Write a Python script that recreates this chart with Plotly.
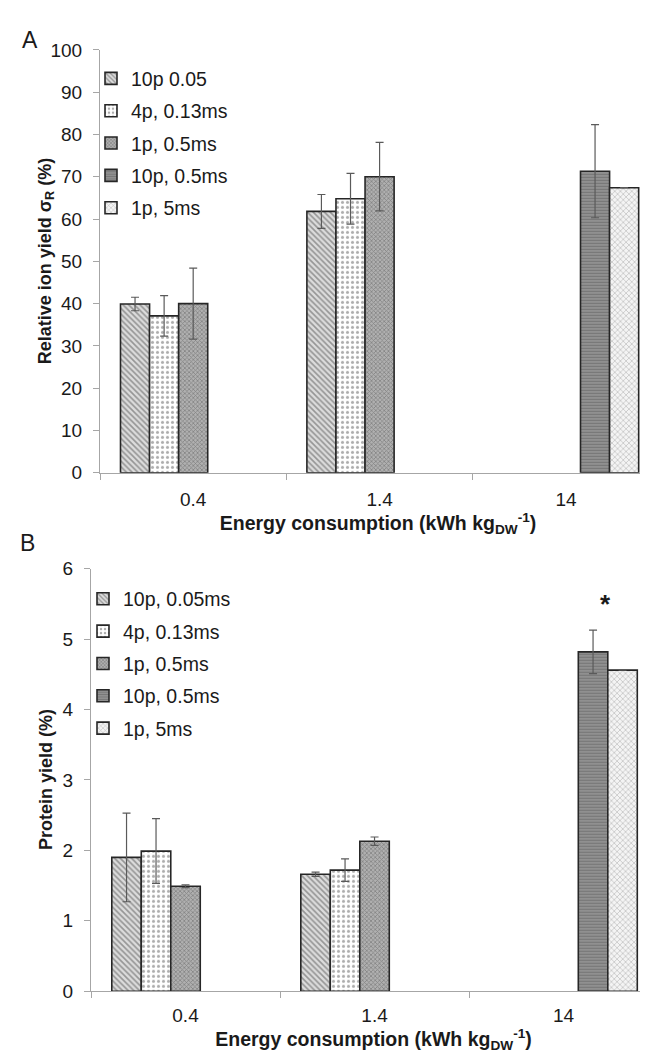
import plotly.graph_objects as go

categories = ["0.4", "1.4", "14"]

names_a = ["10p 0.05", "4p, 0.13ms", "1p, 0.5ms", "10p, 0.5ms", "1p, 5ms"]
names_b = ["10p, 0.05ms", "4p, 0.13ms", "1p, 0.5ms", "10p, 0.5ms", "1p, 5ms"]

# Panel A: relative ion yield (%)
ion_10p_005 = [39.9, 61.8, None]
ion_4p_013 = [37.1, 64.8, None]
ion_1p_05 = [40.0, 70.0, None]
ion_10p_05 = [None, None, 71.3]
ion_1p_5 = [None, None, 67.4]
ion_err_10p_005 = [1.6, 4.0, 0]
ion_err_4p_013 = [4.8, 6.0, 0]
ion_err_1p_05 = [8.4, 8.1, 0]
ion_err_10p_05 = [0, 0, 11.0]
ion_err_1p_5 = [0, 0, 0]

# Panel B: protein yield (%)
prot_10p_005 = [1.90, 1.66, None]
prot_4p_013 = [1.99, 1.72, None]
prot_1p_05 = [1.49, 2.13, None]
prot_10p_05 = [None, None, 4.82]
prot_1p_5 = [None, None, 4.56]
prot_err_10p_005 = [0.63, 0.03, 0]
prot_err_4p_013 = [0.46, 0.16, 0]
prot_err_1p_05 = [0.02, 0.06, 0]
prot_err_10p_05 = [0, 0, 0.31]
prot_err_1p_5 = [0, 0, 0]

patterns = [
    dict(shape="\\", fgcolor="#4d4d4d", bgcolor="#dcdcdc", size=4, solidity=0.4),
    dict(shape=".", fgcolor="#5a5a5a", bgcolor="white", size=5, solidity=0.3),
    dict(shape="x", fgcolor="#555555", bgcolor="#b0b0b0", size=3, solidity=0.45),
    dict(shape="-", fgcolor="#555555", bgcolor="#959595", size=3, solidity=0.45),
    dict(shape="x", fgcolor="#808080", bgcolor="#f4f4f4", size=4, solidity=0.3),
]

FONT = "Liberation Sans, Arial, sans-serif"
TXT = "#1a1a1a"

fig = go.Figure()

vals_a = [ion_10p_005, ion_4p_013, ion_1p_05, ion_10p_05, ion_1p_5]
errs_a = [ion_err_10p_005, ion_err_4p_013, ion_err_1p_05, ion_err_10p_05, ion_err_1p_5]
vals_b = [prot_10p_005, prot_4p_013, prot_1p_05, prot_10p_05, prot_1p_5]
errs_b = [prot_err_10p_005, prot_err_4p_013, prot_err_1p_05, prot_err_10p_05, prot_err_1p_5]

for i in range(5):
    fig.add_trace(go.Bar(
        x=categories, y=vals_a[i], name=names_a[i],
        xaxis="x", yaxis="y", legend="legend", legendgroup="a%d" % i,
        marker=dict(pattern=patterns[i], line=dict(color="#262626", width=1.6)),
        error_y=dict(type="data", array=errs_a[i], visible=True,
                     color="#5a5a5a", thickness=1.2, width=4),
    ))
for i in range(5):
    fig.add_trace(go.Bar(
        x=categories, y=vals_b[i], name=names_b[i],
        xaxis="x2", yaxis="y2", legend="legend2", legendgroup="b%d" % i,
        marker=dict(pattern=patterns[i], line=dict(color="#262626", width=1.6)),
        error_y=dict(type="data", array=errs_b[i], visible=True,
                     color="#5a5a5a", thickness=1.2, width=4),
    ))

W, H = 648, 1052
axis_common = dict(showline=True, linecolor="#a6a6a6", linewidth=1, ticks="outside",
                   tickcolor="#a6a6a6", ticklen=6, showgrid=False, zeroline=False,
                   tickfont=dict(family=FONT, size=19, color=TXT))

xtitle = "<b>Energy consumption (kWh kg<sub>DW</sub><sup>-1</sup>)</b>"
xtitle_font = dict(family=FONT, size=19.5, color=TXT)
ytitle_font = dict(family=FONT, size=18, color=TXT)

A_TOP, A_BOT = 32.5, 464
B_TOP, B_BOT = 562, 993

fig.update_layout(
    width=W, height=H,
    margin=dict(l=0, r=0, t=0, b=0),
    paper_bgcolor="white", plot_bgcolor="white",
    barmode="group", bargap=0.22, bargroupgap=0,
    font=dict(family=FONT, size=19, color=TXT),
    xaxis=dict(axis_common, type="category", domain=[92 / W, 1], anchor="y",
               range=[-0.5, 2.483], tickson="boundaries", ticklabelstandoff=9,
               title=dict(text=xtitle, font=xtitle_font, standoff=3)),
    yaxis=dict(axis_common, domain=[1 - A_BOT / H, 1 - A_TOP / H], anchor="x",
               range=[0, 100], dtick=10, ticklabelstandoff=7),
    xaxis2=dict(axis_common, type="category", domain=[83 / W, 1], anchor="y2",
                range=[-0.5, 2.489], tickson="boundaries", ticklabelstandoff=7,
                title=dict(text=xtitle, font=xtitle_font, standoff=0)),
    yaxis2=dict(axis_common, domain=[1 - B_BOT / H, 1 - B_TOP / H], anchor="x2",
                range=[0, 6], dtick=1, ticklabelstandoff=7),
    legend=dict(x=83 / W, y=1 - 42 / H, xanchor="left", yanchor="top",
                bgcolor="rgba(0,0,0,0)", font=dict(family=FONT, size=19.5, color=TXT),
                traceorder="grouped", tracegroupgap=4),
    legend2=dict(x=75 / W, y=1 - 573 / H, xanchor="left", yanchor="top",
                 bgcolor="rgba(0,0,0,0)", font=dict(family=FONT, size=19.5, color=TXT),
                 traceorder="grouped", tracegroupgap=4),
    annotations=[
        dict(text="A", x=12 / W, y=1 - 22 / H, xref="paper", yref="paper",
             xanchor="left", yanchor="middle", showarrow=False,
             font=dict(family=FONT, size=23, color=TXT)),
        dict(text="B", x=10 / W, y=1 - 536 / H, xref="paper", yref="paper",
             xanchor="left", yanchor="middle", showarrow=False,
             font=dict(family=FONT, size=23, color=TXT)),
        dict(text="<b>Relative ion yield σ<sub>R</sub> (%)</b>", textangle=-90,
             x=38 / W, y=1 - (A_TOP + A_BOT) / 2 / H, xref="paper", yref="paper",
             xanchor="center", yanchor="middle", showarrow=False, font=ytitle_font),
        dict(text="<b>Protein yield (%)</b>", textangle=-90,
             x=38 / W, y=1 - (B_TOP + B_BOT) / 2 / H, xref="paper", yref="paper",
             xanchor="center", yanchor="middle", showarrow=False, font=ytitle_font),
        dict(text="<b>*</b>", x=2.22, y=5.5, xref="x2", yref="y2",
             showarrow=False, font=dict(family=FONT, size=26, color=TXT)),
    ],
)

fig.write_html("out.html")
